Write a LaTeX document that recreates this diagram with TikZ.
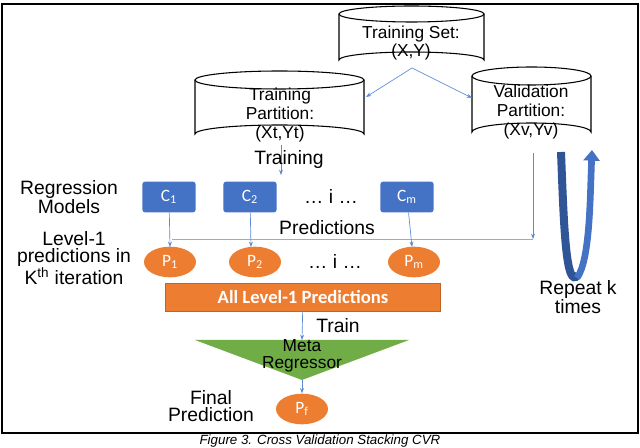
\documentclass[tikz,border=0pt]{standalone}
\usepackage{fontspec}
\setmainfont{Liberation Sans}
\newfontfamily\carl{Carlito}
\usetikzlibrary{arrows.meta,shapes.geometric}
\definecolor{cblue}{HTML}{4472C4}
\definecolor{dblue}{HTML}{2F5597}
\definecolor{corange}{HTML}{ED7D31}
\definecolor{cgreen}{HTML}{70AD47}
\definecolor{lblue}{HTML}{5B8BD6}
\begin{document}
\begin{tikzpicture}[x=0.75pt,y=-0.75pt,
  lab/.style={font=\fontsize{14.5}{13}\selectfont,align=center,inner sep=1pt},
  cyl/.style={font=\fontsize{13}{14}\selectfont,align=center},
  cbox/.style={fill=cblue,rounded corners=2pt,minimum width=40pt,minimum height=23pt,text=white,font=\carl\fontsize{13}{13}\selectfont},
  pell/.style={ellipse,fill=corange,minimum width=39pt,minimum height=23pt,text=white,font=\carl\fontsize{13}{13}\selectfont,inner sep=0pt},
  arr/.style={draw=lblue,line width=0.5pt,-{Stealth[length=4pt,width=3pt]}},
  ln/.style={draw=lblue!70,line width=0.5pt}]
\useasboundingbox (0,0) rectangle (640,448);
\draw[line width=1pt] (2,4) rectangle (638,433);
% cylinders
\newcommand{\mycyl}[5]{% x1 x2 ytop ybot ry
  \draw[fill=white,line width=0.8pt] (#1,#3) -- (#1,#4) arc[start angle=180,end angle=360,x radius={(#2-#1)/2},y radius=#5] -- (#2,#3);
  \draw[fill=white,line width=0.8pt] ({(#1+#2)/2},#3) ellipse[x radius={(#2-#1)/2},y radius=#5];}
\mycyl{339}{484}{14}{60}{8}
\mycyl{195}{364}{80}{134}{9}
\mycyl{472}{591}{76}{132}{9}
\node[cyl] (ts) at (411,43) {Training Set:\\(X,Y)};
\node[cyl] (tp) at (280,115) {Training\\Partition:\\(Xt,Yt)};
\node[cyl] (vp) at (531,112) {Validation\\Partition:\\(Xv,Yv)};
\coordinate (tsb) at (412,68);
\coordinate (tpr) at (366,97);
\coordinate (vpl) at (472,98);
\draw[arr] (tsb) -- (tpr);
\draw[arr] (tsb) -- (vpl);
% training
\coordinate (tpb) at (281,145);
\coordinate (tre) at (281,175);
\draw[arr] (tpb) -- (tre);
\node[lab] (trl) at (289,160) {Training};
\node[lab] (rm) at (69,197) {Regression\\Models};
\node[cbox] (c1) at (169,197) {C\textsubscript{1}};
\node[cbox] (c2) at (250,197) {C\textsubscript{2}};
\node[lab] (d1) at (331,197) {\dots\ i \dots};
\node[cbox] (cm) at (407,197) {C\textsubscript{m}};
\node[lab] (pr) at (327,228) {Predictions};
% predictions line
\coordinate (h1) at (172,239);
\coordinate (h2) at (533,239);
\coordinate (vtop) at (533,153);
\draw[ln] (h1) -- (h2);
\draw[arr] (vtop) -- (h2);
\coordinate (p1t) at (170,247);
\coordinate (p2t) at (251,247);
\coordinate (pmt) at (412,247);
\draw[arr] (c1) -- (p1t);
\draw[arr] (c2) -- (p2t);
\draw[arr] (cm) -- (pmt);
\node[pell] (p1) at (170,262) {P\textsubscript{1}};
\node[pell] (p2) at (255,262) {P\textsubscript{2}};
\node[lab] (d2) at (335,262) {\dots\ i \dots};
\node[pell] (pm) at (414,262) {P\textsubscript{m}};
\node[lab] (l1) at (74,258) {Level-1\\predictions in\\K\textsuperscript{th} iteration};
% all level-1
\node[fill=corange,draw=corange!80!black,line width=0.3pt,minimum width=206pt,minimum height=21pt,text=white,font=\carl\bfseries\fontsize{14}{14}\selectfont] (all) at (303,297) {All Level-1 Predictions};
\coordinate (mt) at (302,340);
\draw[arr] (all) -- (mt);
\node[lab] (trn) at (338,326) {Train};
\path[fill=cgreen] (195,340) -- (409,340) -- (302,380) -- cycle;
\node[font=\fontsize{13}{12.5}\selectfont,align=center] (meta) at (302,356) {Meta\\Regressor};
\coordinate (ma) at (302,380);
\node[pell] (pf) at (302,409) {P\textsubscript{f}};
\draw[arr] (ma) -- (pf);
\node[lab] (fp) at (211,406) {Final\\Prediction};
% repeat loop
\draw[dblue,line width=6pt] (561,152) .. controls (564,230) and (566,290) .. (578,275);
\draw[cblue,line width=5pt,-{Triangle[length=8pt,width=12pt]}] (577,278) .. controls (590,260) and (590,200) .. (592,150);
\node[lab] (rk) at (578,297) {Repeat k\\times};
\node[font=\itshape\fontsize{10}{11}\selectfont,inner sep=1pt] (cap) at (320,441) {Figure 3. Cross Validation Stacking CVR};
\end{tikzpicture}
\end{document}
